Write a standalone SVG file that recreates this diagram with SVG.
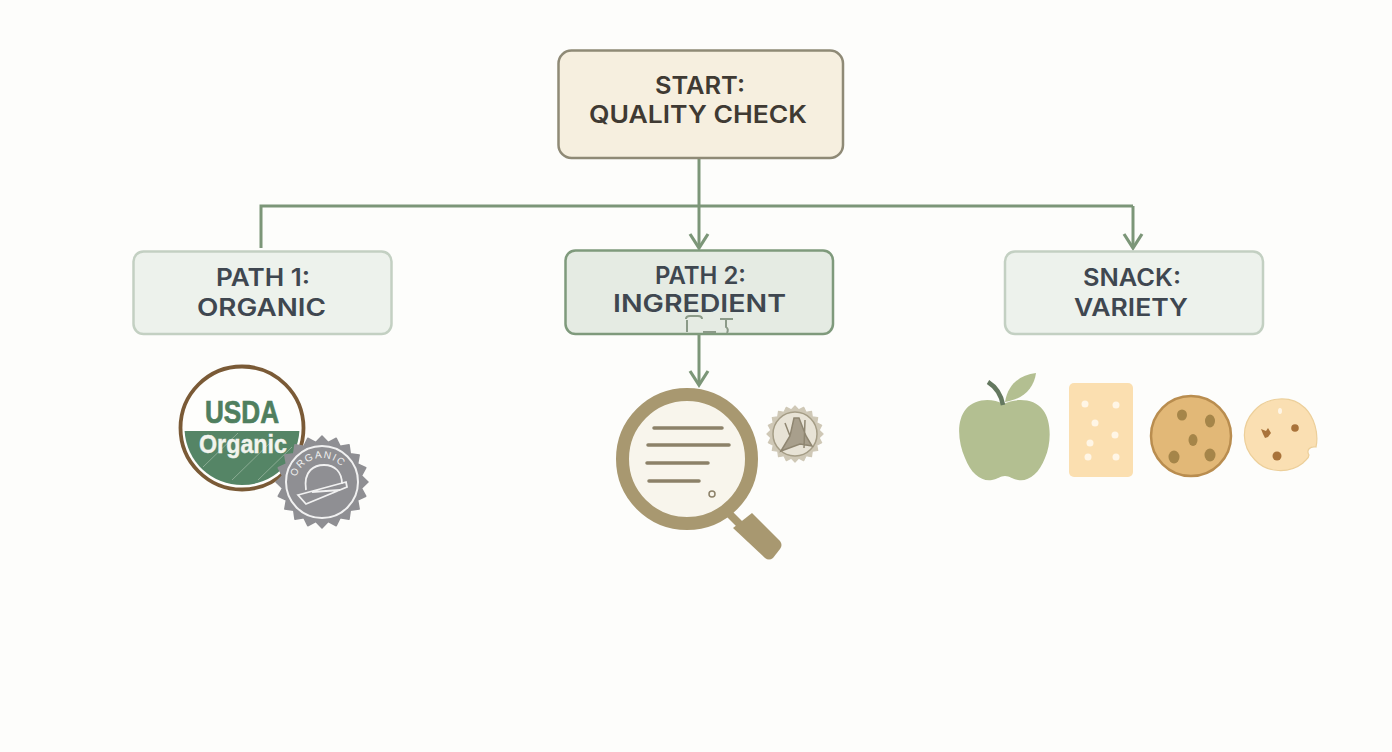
<svg xmlns="http://www.w3.org/2000/svg" width="1392" height="752" viewBox="0 0 1392 752">
<style>
.t{font-family:"Inter","Open Sans","Liberation Sans",sans-serif;font-weight:600;text-anchor:middle;font-size:24px}
.d{fill:#3f3a33}.g{fill:#3f4750}
.box{stroke-width:2.5}
.conn{fill:none;stroke:#7c9678;stroke-width:3}
.soft{fill:#edf2ec;stroke:#c3d0c2}
.seal{font-family:"Liberation Sans",Arial,sans-serif;font-weight:700;text-anchor:middle}
.hole{fill:#fff6e6}.chip{fill:#a58549}.chip2{fill:#a9733a}
.ln{stroke:#8c8168;stroke-width:3.5;stroke-linecap:round;fill:none}
</style>
<defs>
<marker id="arr" markerUnits="userSpaceOnUse" markerWidth="24" markerHeight="24" refX="18" refY="12" orient="auto">
<path d="M4 3 L18 12 L4 21" fill="none" stroke="#7c9678" stroke-width="3.2"/>
</marker>
<polygon id="gear" stroke-linejoin="round" points="46,0 39.51,6.26 43.75,14.21 35.64,18.16 37.21,27.04 28.28,28.28 27.04,37.21 18.16,35.64 14.21,43.75 6.26,39.51 0,46 -6.26,39.51 -14.21,43.75 -18.16,35.64 -27.04,37.21 -28.28,28.28 -37.21,27.04 -35.64,18.16 -43.75,14.21 -39.51,6.26 -46,0 -39.51,-6.26 -43.75,-14.21 -35.64,-18.16 -37.21,-27.04 -28.28,-28.28 -27.04,-37.21 -18.16,-35.64 -14.21,-43.75 -6.26,-39.51 0,-46 6.26,-39.51 14.21,-43.75 18.16,-35.64 27.04,-37.21 28.28,-28.28 37.21,-27.04 35.64,-18.16 43.75,-14.21 39.51,-6.26"/>
</defs>
<rect width="1392" height="752" fill="#fdfdfb"/>
<g id="connectors" class="conn">
<path d="M261 248V206H1133"/>
<path d="M1133 206V248" marker-end="url(#arr)"/>
<path d="M699 158V248" marker-end="url(#arr)"/>
<path d="M699 334V385" marker-end="url(#arr)"/>
</g>
<g id="start">
<rect class="box" x="558.500" y="50.500" width="284.500" height="107.500" rx="13" fill="#f6efdf" stroke="#8f8a76"/>
<text class="t d" x="700" y="94" textLength="90" lengthAdjust="spacingAndGlyphs">START:</text>
<text class="t d" x="698" y="123" textLength="218" lengthAdjust="spacingAndGlyphs">QUALITY CHECK</text>
</g>
<g id="path1">
<rect class="box soft" x="133.500" y="251.500" width="258" height="82.500" rx="10"/>
<text class="t g" x="263" y="286" textLength="94" lengthAdjust="spacingAndGlyphs">PATH 1:</text>
<text class="t g" x="261.500" y="316" textLength="129" lengthAdjust="spacingAndGlyphs">ORGANIC</text>
</g>
<g id="path2">
<rect class="box" x="565.500" y="250.500" width="267.500" height="83.500" rx="10" fill="#e5ebe3" stroke="#7f9a7c"/>
<text class="t g" x="700.500" y="284" textLength="91" lengthAdjust="spacingAndGlyphs">PATH 2:</text>
<text class="t g" x="699.500" y="312" textLength="173" lengthAdjust="spacingAndGlyphs">INGREDIENT</text>
<path d="M686 319Q686 316 690 316H698Q702 316 702 319M687 320V332M703 332H716M720 319H733M726 320V327Q729 329 727 333" fill="none" stroke="#8b9a88" stroke-width="2"/>
</g>
<g id="snack">
<rect class="box soft" x="1005" y="251.500" width="258" height="82.500" rx="10"/>
<text class="t g" x="1132" y="286" textLength="98" lengthAdjust="spacingAndGlyphs">SNACK:</text>
<text class="t g" x="1131" y="316" textLength="114" lengthAdjust="spacingAndGlyphs">VARIETY</text>
</g>
<g id="organic-icons">
<circle cx="242" cy="428" r="61.500" fill="#fefefc" stroke="#7a5a36" stroke-width="3.800"/>
<path d="M184.600 431H299.400A57.500 57.500 0 0 1 184.600 431Z" fill="#558566"/>
<path d="M203 467L238 433M232 480L272 441M258 480L292 447" stroke="#8aab93" stroke-width="1" fill="none"/>
<text class="seal" x="242" y="423" font-size="31" fill="#4f7f5f" stroke="#4f7f5f" stroke-width=".7" textLength="74" lengthAdjust="spacingAndGlyphs">USDA</text>
<text class="seal" x="243" y="453" font-size="26" fill="#f2f4ee" stroke="#f2f4ee" stroke-width=".4" textLength="88" lengthAdjust="spacingAndGlyphs">Organic</text>
<use href="#gear" transform="translate(322 482)" fill="#8f8f93" stroke="#8f8f93" stroke-width="1.500"/>
<circle cx="322" cy="482" r="36" fill="none" stroke="#f1f1f1" stroke-width="2"/>
<path id="bArc" d="M295 485A27 27 0 0 1 349 485" fill="none"/>
<text font-family="Liberation Sans,sans-serif" font-size="10" letter-spacing="1.500" fill="#f1f1f1"><textPath href="#bArc" startOffset="8">ORGANIC</textPath></text>
<path d="M306 490C303 470 315 465 324 465C335 465 342 472 342 484M298 495L346 482L347 487L306 504L298 495ZM312 492L340 490" fill="none" stroke="#f1f1f1" stroke-width="1.800"/>
</g>
<g id="ingredient-icons">
<path d="M731 510L745 524L740 530L726 516Z" fill="#a89870"/>
<path d="M752 513L780 541Q783 545 780 549L773 558Q769 561 765 558L733 528Z" fill="#a89870"/>
<circle cx="687" cy="459" r="64.500" fill="#f8f5ec" stroke="#a89870" stroke-width="13"/>
<path class="ln" d="M654 428H722M648 445H729M647 463H708M649 481H699"/>
<circle cx="712" cy="494" r="3" fill="none" stroke="#8c8168" stroke-width="1.500"/>
<use href="#gear" transform="translate(795 434) scale(.61)" fill="#cfc8b6" stroke="#cfc8b6" stroke-width="2"/>
<circle cx="795" cy="434" r="22" fill="#e8e3d6" stroke="#a59d86" stroke-width="1.500"/>
<path d="M781 451L790 436L794 418L799 418L806 436L812 446L800 444ZM785 423L790 436M805 420L804 448" fill="#a89f8c" stroke="#8f8671" stroke-width="1.500"/>
</g>
<g id="snack-icons">
<g id="apple">
<path d="M1003 404C993 398 975 398 966 409C956 421 958 442 965 458C971 474 982 482 992 480C998 479 1000 476 1005 476C1010 476 1012 479 1018 480C1028 482 1039 474 1045 458C1052 442 1051 420 1043 410C1034 398 1016 398 1003 404Z" fill="#b3bf91"/>
<path d="M1005 402C1008 384 1020 375 1036 373C1034 388 1024 399 1005 402Z" fill="#b3bf91"/>
<path d="M1003 405C1001 394 996 387 988 382" fill="none" stroke="#64785f" stroke-width="4.500"/>
</g>
<g id="cracker">
<rect x="1069" y="383" width="64" height="94" rx="5" fill="#fbdfb0"/>
<circle class="hole" cx="1085" cy="404" r="3.500"/><circle class="hole" cx="1116" cy="405" r="3.500"/><circle class="hole" cx="1095" cy="423" r="3.500"/><circle class="hole" cx="1115" cy="435" r="3.500"/><circle class="hole" cx="1090" cy="443" r="3.500"/><circle class="hole" cx="1088" cy="457" r="3.500"/><circle class="hole" cx="1116" cy="457" r="3.500"/>
</g>
<g id="cookie">
<circle cx="1191" cy="436" r="40" fill="#e2b877" stroke="#b98d4f" stroke-width="2.500"/>
<ellipse class="chip" cx="1182" cy="415" rx="5" ry="5.500"/><ellipse class="chip" cx="1210" cy="421" rx="5" ry="6.500"/><ellipse class="chip" cx="1193" cy="440" rx="4.500" ry="6"/><ellipse class="chip" cx="1174" cy="457" rx="5.500" ry="6.500"/><ellipse class="chip" cx="1210" cy="455" rx="5.500" ry="6.500"/>
</g>
<g id="cookie-bitten">
<path d="M1316 447C1310 446 1306 450 1309 455C1309 459 1305 460 1303 463C1289 474 1267 473 1255 460C1241 446 1241 425 1254 411C1267 396 1292 395 1305 408C1314 417 1319 433 1316 447Z" fill="#fadfb2" stroke="#eccf9a" stroke-width="1.200"/>
<ellipse cx="1280" cy="411" rx="2" ry="3" fill="#fff6e6"/>
<path class="chip2" d="M1261 429L1266 431L1268 428L1271 433L1268 437L1265 438L1263 434Z"/><circle class="chip2" cx="1295" cy="428" r="3.800"/><circle class="chip2" cx="1277" cy="456" r="4.500"/>
</g>
</g>
</svg>
